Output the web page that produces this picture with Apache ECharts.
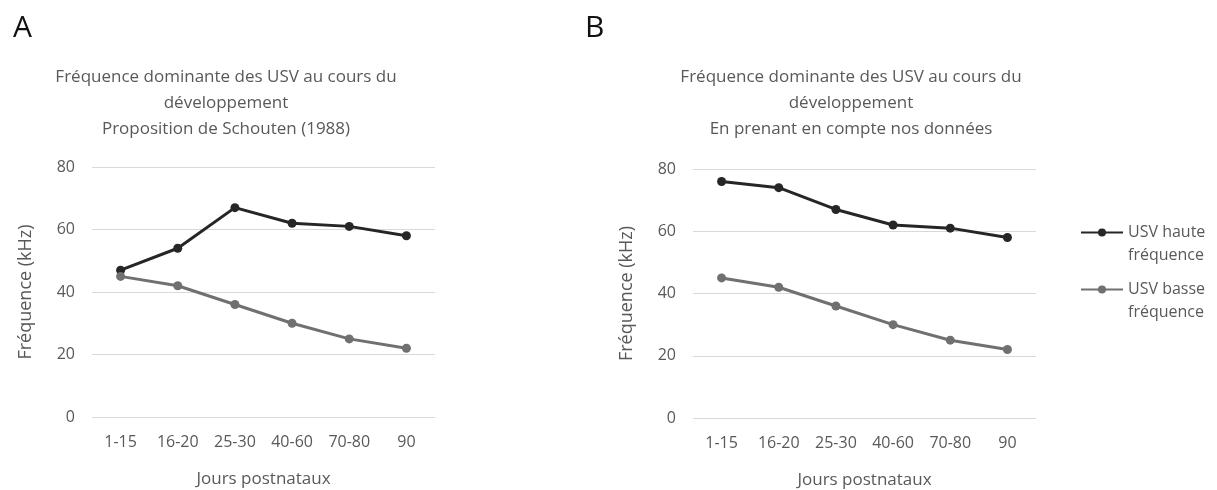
<!DOCTYPE html>
<html><head><meta charset="utf-8">
<script src="https://cdn.jsdelivr.net/npm/echarts@6/dist/echarts.min.js"></script>
<style>html,body{margin:0;padding:0;background:#fff}#c{width:1217px;height:490px}</style>
</head><body><div id="c"></div>
<script>
const categories = ['1-15','16-20','25-30','40-60','70-80','90'];
const highA = [47,54,67,62,61,58];
const lowA = [45,42,36,30,25,22];
const highB = [76,74,67,62,61,58];
const lowB = [45,42,36,30,25,22];
const seriesNames = ['USV haute fréquence','USV basse fréquence'];
const titleA = 'Fréquence dominante des USV au cours du\ndéveloppement\nProposition de Schouten (1988)';
const titleB = 'Fréquence dominante des USV au cours du\ndéveloppement\nEn prenant en compte nos données';

const FONT = '"Open Sans", sans-serif';
const TXT = '#595959';
const cHigh = '#262626', cLow = '#707070';

const chart = echarts.init(document.getElementById('c'), null, {renderer:'canvas'});
function xAx(i){return {type:'category',gridIndex:i,data:categories,boundaryGap:true,
  axisLine:{show:false},axisTick:{show:false},
  axisLabel:{color:TXT,fontFamily:FONT,fontSize:16,margin:17},
  name:'Jours postnataux',nameLocation:'middle',nameGap:54,
  nameTextStyle:{color:TXT,fontFamily:FONT,fontSize:17}};}
function yAx(i){return {type:'value',gridIndex:i,min:0,max:80,interval:20,
  axisLine:{show:false},axisTick:{show:false},
  splitLine:{lineStyle:{color:'#d9d9d9',width:1}},
  axisLabel:{color:TXT,fontFamily:FONT,fontSize:16,margin:17},
  name:'Fréquence (kHz)',nameLocation:'middle',nameGap:57,
  nameTextStyle:{color:TXT,fontFamily:FONT,fontSize:18}};}
function ser(name,data,i,color){return {name:name,type:'line',xAxisIndex:i,yAxisIndex:i,data:data,
  symbol:'circle',symbolSize:9,showSymbol:true,
  lineStyle:{color:color,width:3},itemStyle:{color:color},emphasis:{disabled:true}};}

chart.setOption({
  animation:false,
  backgroundColor:'#fff',
  title:[
    {text:'A',left:8,top:8,textStyle:{fontFamily:FONT,fontSize:30,fontWeight:'normal',color:'#111'}},
    {text:'B',left:580,top:8,textStyle:{fontFamily:FONT,fontSize:30,fontWeight:'normal',color:'#111'}},
    {text:titleA,left:221,textAlign:'center',top:59,textStyle:{fontFamily:FONT,fontSize:17,fontWeight:'normal',color:TXT,lineHeight:26}},
    {text:titleB,left:846,textAlign:'center',top:59,textStyle:{fontFamily:FONT,fontSize:17,fontWeight:'normal',color:TXT,lineHeight:26}}
  ],
  legend:{orient:'vertical',left:1075,top:193,itemWidth:42,itemHeight:10,itemGap:-12,
    data:seriesNames,
    formatter:function(n){return '\n' + n.replace(' fréquence','\nfréquence');},
    textStyle:{color:TXT,fontFamily:FONT,fontSize:16,lineHeight:23}},
  grid:[
    {left:92,top:167,width:343,height:250,containLabel:false,outerBoundsMode:'none'},
    {left:693,top:169,width:343,height:249,containLabel:false,outerBoundsMode:'none'}
  ],
  xAxis:[xAx(0),xAx(1)],
  yAxis:[yAx(0),yAx(1)],
  series:[
    ser(seriesNames[0],highA,0,cHigh),
    ser(seriesNames[1],lowA,0,cLow),
    ser(seriesNames[0],highB,1,cHigh),
    ser(seriesNames[1],lowB,1,cLow)
  ]
});
</script></body></html>
